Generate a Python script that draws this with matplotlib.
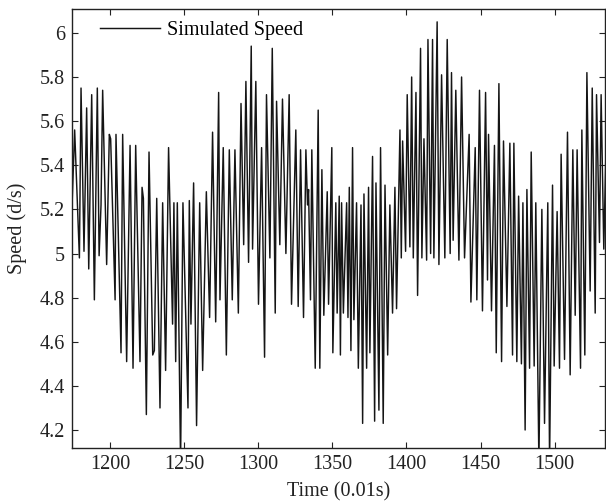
import matplotlib
matplotlib.use("Agg")
import matplotlib.pyplot as plt
from matplotlib.ticker import FuncFormatter

plt.rcParams['font.family'] = ['Liberation Serif', 'DejaVu Serif']

time = [
    1174.2, 1176.0, 1179.2, 1180.3, 1182.3, 1184.1, 1185.5, 1187.5, 1189.3, 1191.3,
    1192.5, 1193.8, 1194.9, 1197.6, 1199.4, 1200.3, 1203.3, 1203.9, 1207.3, 1208.4,
    1211.1, 1213.4, 1215.4, 1217.2, 1220.1, 1221.5, 1222.4, 1224.4, 1226.2, 1228.7,
    1229.8, 1231.4, 1233.6,
    1235.4, 1237.4, 1239.4, 1242.1, 1243.0, 1244.2, 1245.3, 1247.5, 1249.1, 1252.5,
    1253.4, 1254.5, 1256.3, 1258.3, 1260.4, 1262.4, 1264.9, 1267.1, 1269.1, 1271.2,
    1273.2, 1274.1, 1276.3, 1278.4, 1280.4, 1282.4, 1284.2, 1286.5, 1288.3, 1290.1,
    1291.6, 1293.4, 1295.2,
    1296.1, 1298.3, 1300.1, 1302.2, 1304.2, 1305.5, 1307.8, 1309.4, 1311.4, 1312.3,
    1314.5, 1316.3, 1318.6, 1320.8, 1322.4, 1325.3, 1326.9, 1328.5, 1330.5, 1332.1,
    1333.2, 1333.9, 1335.2, 1336.1, 1338.4, 1340.4, 1341.5, 1342.9, 1344.2, 1346.5,
    1347.4, 1349.6, 1350.3, 1352.3, 1353.2, 1354.6, 1355.4,
    1356.2, 1357.4, 1359.6, 1360.5, 1361.4, 1362.5, 1363.6, 1364.5, 1366.3, 1367.5,
    1369.3, 1370.4, 1371.3, 1373.1, 1374.4, 1375.3, 1377.1, 1378.5, 1379.4, 1381.4,
    1382.5, 1384.3, 1385.5, 1387.3, 1388.8, 1390.6, 1392.2, 1393.3, 1395.6, 1396.5,
    1397.4, 1399.4, 1400.5, 1402.3, 1403.5, 1404.6, 1406.4, 1407.5, 1409.5, 1410.4,
    1411.8, 1413.6, 1414.5, 1416.3,
    1417.6, 1418.5, 1420.7, 1421.9, 1423.7, 1425.9, 1427.5, 1429.5, 1430.4, 1431.5,
    1433.3, 1435.4, 1437.2, 1439.2, 1442.3, 1443.5, 1446.4, 1447.5, 1449.3, 1451.3,
    1453.4, 1454.7, 1455.4, 1457.4, 1459.4, 1460.6, 1462.4, 1464.2, 1465.5, 1467.8,
    1469.8, 1471.6, 1472.5, 1474.5, 1475.7, 1477.6,
    1478.6, 1480.1, 1481.3, 1483.1, 1484.2, 1486.2, 1487.3, 1489.4, 1491.4, 1493.2,
    1495.4, 1496.6, 1498.6, 1499.7, 1501.7, 1503.3, 1504.4, 1506.7, 1508.7, 1510.5,
    1512.3, 1513.9, 1515.2, 1517.5, 1518.4, 1520.4, 1521.8, 1524.0, 1525.4, 1527.4,
    1528.3, 1530.3, 1531.4, 1533.2, 1534.6,
]

speed = [
    5.21, 5.56, 4.98, 5.75, 5.01, 5.66, 4.93, 5.72, 4.79, 5.75,
    4.99, 5.22, 5.74, 4.95, 5.54, 5.52, 4.79, 5.54, 4.55, 5.54,
    4.51, 5.49, 4.48, 5.49, 4.51, 5.30, 5.25, 4.27, 5.46, 4.54,
    4.56, 5.25, 4.30,
    5.23, 4.47, 5.48, 4.68, 5.23, 4.51, 5.23, 4.05, 5.23, 4.30,
    5.24, 4.68, 5.32, 4.22, 5.23, 4.47, 5.28, 4.71, 5.55, 4.69,
    5.73, 4.79, 5.48, 4.54, 5.47, 4.79, 5.47, 4.73, 5.68, 5.04,
    5.78, 4.96, 5.94,
    5.02, 5.78, 4.77, 5.48, 4.53, 5.72, 4.98, 5.93, 4.73, 5.69,
    5.04, 5.70, 5.00, 5.72, 4.77, 5.56, 4.76, 5.47, 4.71, 5.47,
    5.22, 5.29, 4.79, 5.47, 4.48, 5.65, 4.48, 5.38, 4.72, 5.28,
    4.77, 5.48, 4.55, 5.23, 4.73, 5.26, 4.54,
    5.23, 4.73, 5.23, 4.71, 5.30, 4.56, 5.48, 4.70, 5.23, 4.48,
    5.22, 4.23, 5.27, 4.48, 5.30, 4.55, 5.44, 4.24, 5.32, 4.29,
    5.48, 4.23, 5.31, 4.54, 5.22, 4.73, 5.30, 4.75, 5.56, 4.98,
    5.51, 5.01, 5.72, 5.03, 5.80, 4.98, 5.73, 4.81, 5.93, 4.98,
    5.52, 4.97, 5.97, 5.00,
    5.97, 4.98, 6.05, 4.95, 5.81, 4.98, 5.97, 5.00, 5.82, 5.06,
    5.74, 4.97, 5.80, 4.98, 5.54, 4.78, 5.48, 4.79, 5.74, 4.74,
    5.73, 4.88, 5.54, 4.74, 5.49, 4.55, 5.77, 4.51, 5.51, 4.76,
    5.50, 4.54, 5.50, 4.51, 5.26, 4.50,
    5.23, 4.20, 5.29, 4.48, 5.46, 4.49, 5.23, 4.05, 5.20, 4.23,
    5.23, 4.05, 5.31, 4.49, 5.19, 4.48, 5.45, 4.52, 5.55, 4.45,
    5.47, 4.72, 5.47, 4.48, 5.56, 4.54, 5.82, 4.83, 5.75, 4.73,
    5.72, 5.05, 5.72, 5.02, 5.45,
]

x_ticks = [1200, 1250, 1300, 1350, 1400, 1450, 1500]
y_ticks = [4.2, 4.4, 4.6, 4.8, 5.0, 5.2, 5.4, 5.6, 5.8, 6.0]

fig = plt.figure(figsize=(6.06, 5.04), dpi=100)
ax = fig.add_axes([0.1188, 0.1105, 0.8795, 0.8715])

ax.plot(time, speed, color='#151515', linewidth=1.05, label='Simulated Speed')

ax.set_xlim(1174.2, 1534.0)
ax.set_ylim(4.117, 6.108)
ax.set_xticks(x_ticks)
ax.set_yticks(y_ticks)
ax.yaxis.set_major_formatter(FuncFormatter(lambda v, p: f"{v:g}"))

ax.tick_params(direction='in', top=True, right=True, length=4, width=0.8,
               labelsize=14.5, pad=5, colors='#222222')
for s in ax.spines.values():
    s.set_linewidth(1.0)
    s.set_color('#222222')

ax.set_xlabel('Time (0.01s)', fontsize=14.5, labelpad=6, color='#222222')
ax.set_ylabel('Speed (d/s)', fontsize=14.5, labelpad=9, color='#222222')

leg = ax.legend(loc='upper left', frameon=False, fontsize=14.5, handlelength=3.0,
                handletextpad=0.3, borderaxespad=0.2, bbox_to_anchor=(0.03, 1.0))

fig.savefig('out.png', dpi=100)
